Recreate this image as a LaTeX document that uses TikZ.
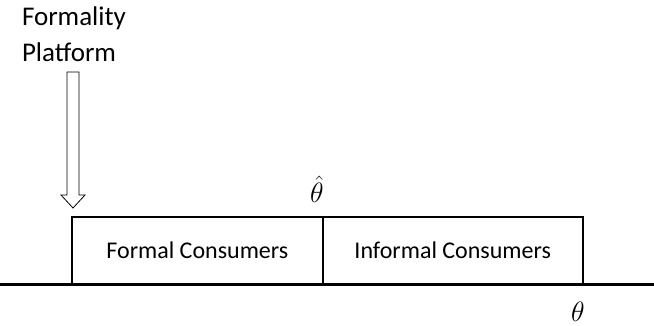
\RequirePackage{fix-cm}
\documentclass[tikz,border=0pt]{standalone}
\usepackage{fontspec}
\setmainfont{Carlito}
\usepackage{amsmath}

\begin{document}
\begin{tikzpicture}[x=1pt,y=1pt]
            \tikzstyle{every node}+=[inner sep=0pt,outer sep=0pt]
            \tikzstyle{toplabel}=[anchor=base west,font=\fontsize{27}{32}\selectfont]
            \tikzstyle{group}=[draw=black,line width=2pt,anchor=south west,minimum height=68pt,font=\fontsize{24}{28}\selectfont]
            \tikzstyle{mathlabel}=[anchor=base,font=\fontsize{28}{32}\selectfont]
            \useasboundingbox (0,0) rectangle (654,-326);
            \node [toplabel] (formality) at (22,-26) {Formality};
            \node [toplabel] (platform) at (22,-62) {Platform};
            \coordinate (axisl) at (0,-284.7);
            \coordinate (axisr) at (654,-284.7);
            \node [group,minimum width=250.7pt] (formal) at (72,-284.7) {Formal Consumers};
            \node [group,minimum width=260pt] (informal) at (formal.south east) {Informal Consumers};
            \draw [black,line width=2.5pt] (axisl) -- (axisr);
            \node [mathlabel] (thetahat) at (317,-203) {$\hat{\theta}$};
            \node [mathlabel] (theta) at (578,-321) {$\theta$};
            % hollow arrow from the label down to the box
            \coordinate (tip) at (73,-208);
            \draw [black,line width=0.8pt] (tip) -- ++(-12,13) -- ++(6,0) -- ++(0,123) -- ++(12,0)
                -- ++(0,-123) -- ++(6,0) -- cycle;
\end{tikzpicture}
\end{document}
